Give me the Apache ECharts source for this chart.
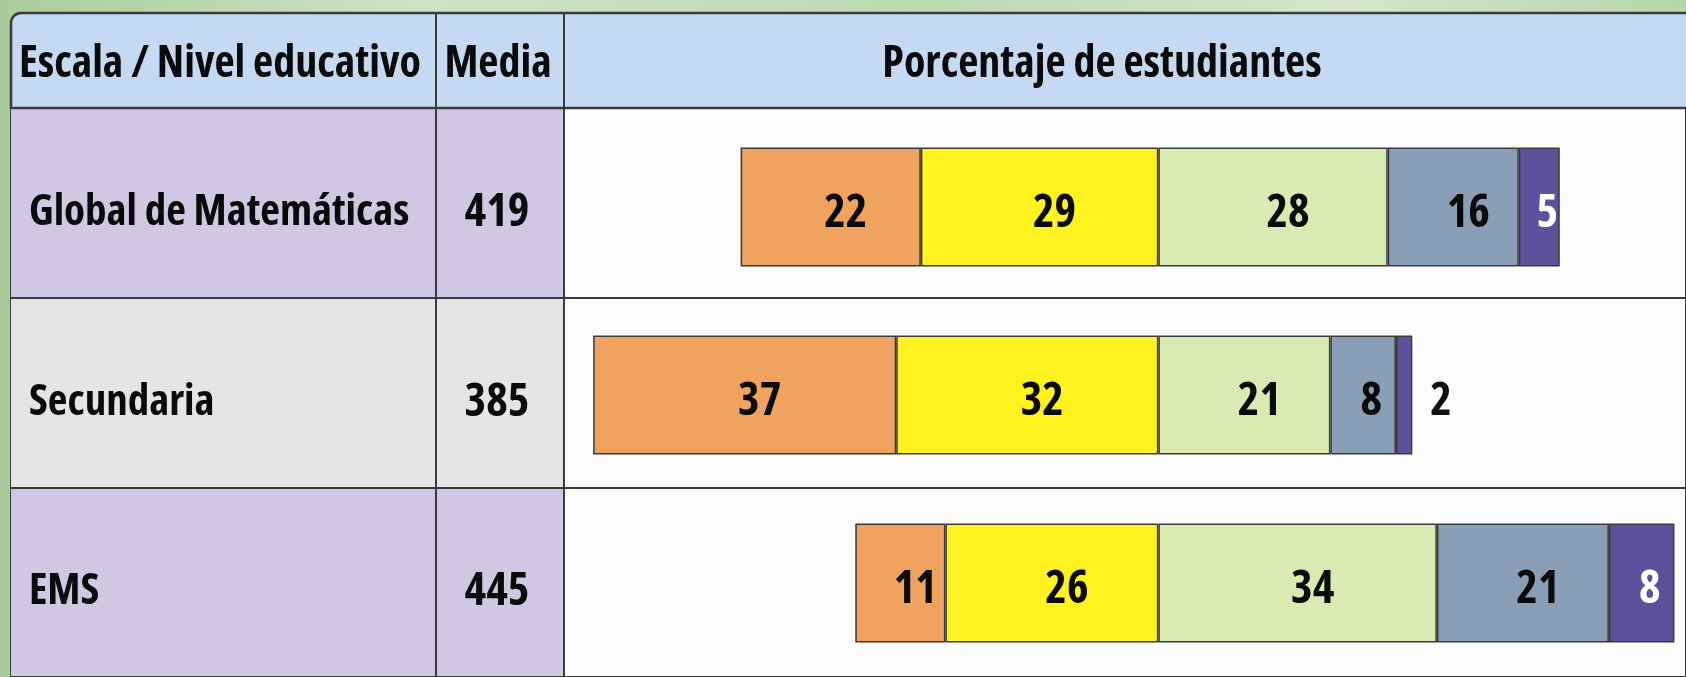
<!DOCTYPE html>
<html>
<head>
<meta charset="utf-8">
<script src="https://cdn.jsdelivr.net/npm/echarts@6/dist/echarts.min.js"></script>
<style>
  html, body { margin: 0; padding: 0; }
  body {
    width: 1686px; height: 677px; overflow: hidden;
    background: linear-gradient(90deg, #a9cc9c 0%, #cfe3c5 25%, #bcd9b1 55%, #d3e6cb 80%, #b7d5ab 100%);
  }
  #chart { width: 1686px; height: 677px; }
</style>
</head>
<body>
<div id="chart"></div>
<script>
// table content
const headers = ['Escala / Nivel educativo', 'Media', 'Porcentaje de estudiantes'];
const categories = ['Global de Matemáticas', 'Secundaria', 'EMS'];
const medias = [419, 385, 445];

// percentage of students per level (I..V)
const nivelI = [22, 37, 11];
const nivelII = [29, 32, 26];
const nivelIII = [28, 21, 34];
const nivelIV = [16, 8, 21];
const nivelV = [5, 2, 8];

// narrow bold face: Open Sans squeezed through its width axis
const FONT = '"Open Sans", "DejaVu Sans Condensed", sans-serif';
const STRETCH = 'condensed';
const BORDER = '#3b3b3b';
const TOP = 108;
const ROWS_H = 573;

const chart = echarts.init(document.getElementById('chart'));

function labelStyle(color) {
    return {
        show: true,
        position: 'inside',
        fontFamily: FONT,
        fontStyle: STRETCH,
        fontWeight: 'bold',
        fontSize: 46,
        color: color,
        formatter: p => Math.abs(p.value)
    };
}

// labels in the source sit a bit right of each segment's centre, and a bit low
function items(values, sign) {
    return values.map(v => ({
        value: sign * v,
        label: { offset: [v < 10 ? 8 : 15, 7] }
    }));
}

function purpleItems(values) {
    return values.map(v => {
        if (v < 4) {
            return { value: v, label: { position: 'right', distance: 18, color: '#111', offset: [0, 7] } };
        }
        return { value: v, label: { offset: [8, 7] } };
    });
}

const barBase = {
    type: 'bar',
    xAxisIndex: 3,
    yAxisIndex: 3,
    stack: 'total',
    barWidth: 119,
    itemStyle: { borderColor: '#3a3a3a', borderWidth: 1.5 }
};

const cellAxis = {
    type: 'category', data: categories, inverse: true,
    axisLine: { show: false }, axisTick: { show: false },
    splitArea: { show: true, interval: 0, areaStyle: { color: ['#d0c8e2', '#e5e5e5'] } },
    splitLine: { show: true, interval: 0, lineStyle: { color: BORDER, width: 2 } }
};

const headerText = (x, text, align) => ({
    type: 'text', z: 12, x: x, y: 64,
    style: {
        text: text, fontFamily: FONT, fontStyle: STRETCH, fontWeight: 'bold', fontSize: 44,
        fill: '#0a0a0a', verticalAlign: 'middle', align: align
    }
});

const option = {
    animation: false,
    backgroundColor: 'transparent',
    grid: [
        { left: 11, top: TOP, width: 425, height: ROWS_H, show: true, borderColor: BORDER, borderWidth: 2 },
        { left: 436, top: TOP, width: 128, height: ROWS_H, show: true, borderColor: BORDER, borderWidth: 2 },
        { left: 564, top: TOP, right: -2, height: ROWS_H, show: true, backgroundColor: '#fcfcfc', borderColor: BORDER, borderWidth: 2 },
        { left: 564, top: 113, right: -2, height: 570 }
    ],
    xAxis: [
        { gridIndex: 0, type: 'value', min: 0, max: 1, show: false },
        { gridIndex: 1, type: 'value', min: 0, max: 1, show: false },
        { gridIndex: 2, type: 'value', min: 0, max: 1, show: false },
        { gridIndex: 3, type: 'value', min: -72.56, max: 64.41, show: false }
    ],
    yAxis: [
        Object.assign({}, cellAxis, {
            gridIndex: 0,
            axisLabel: {
                inside: true, margin: 18, fontFamily: FONT, fontStyle: STRETCH, fontWeight: 'bold',
                fontSize: 43, color: '#0a0a0a', verticalAlign: 'top', lineHeight: 20
            }
        }),
        Object.assign({}, cellAxis, {
            gridIndex: 1,
            axisLabel: {
                inside: true, margin: 61, align: 'center', fontFamily: FONT, fontStyle: STRETCH, fontWeight: 'bold',
                fontSize: 46, color: '#0a0a0a', verticalAlign: 'top', lineHeight: 20,
                formatter: (v, i) => String(medias[i])
            }
        }),
        {
            gridIndex: 2, type: 'category', data: categories, inverse: true,
            axisLine: { show: false }, axisTick: { show: false }, axisLabel: { show: false },
            splitLine: { show: true, interval: 0, lineStyle: { color: BORDER, width: 2 } }
        },
        {
            gridIndex: 3, type: 'category', data: categories, inverse: true, show: false
        }
    ],
    graphic: [
        {
            type: 'rect', z: 10,
            shape: { x: 11, y: 13, width: 1690, height: 95, r: [10, 0, 0, 0] },
            style: { fill: '#c6d9f2', stroke: BORDER, lineWidth: 2.5 }
        },
        // column rules over the whole table height
        { type: 'line', z: 11, shape: { x1: 436, y1: 13, x2: 436, y2: 677 }, style: { stroke: BORDER, lineWidth: 2 } },
        { type: 'line', z: 11, shape: { x1: 564, y1: 13, x2: 564, y2: 677 }, style: { stroke: BORDER, lineWidth: 2 } },
        headerText(19, headers[0], 'left'),
        headerText(498, headers[1], 'center'),
        headerText(1102, headers[2], 'center')
    ],
    series: [
        Object.assign({}, barBase, {
            name: 'Nivel II', data: items(nivelII, -1),
            itemStyle: Object.assign({}, barBase.itemStyle, { color: '#fff21f' }),
            label: labelStyle('#0a0a0a')
        }),
        Object.assign({}, barBase, {
            name: 'Nivel I', data: items(nivelI, -1),
            itemStyle: Object.assign({}, barBase.itemStyle, { color: '#f0a35e' }),
            label: labelStyle('#0a0a0a')
        }),
        Object.assign({}, barBase, {
            name: 'Nivel III', data: items(nivelIII, 1),
            itemStyle: Object.assign({}, barBase.itemStyle, { color: '#dbe9b2' }),
            label: labelStyle('#0a0a0a')
        }),
        Object.assign({}, barBase, {
            name: 'Nivel IV', data: items(nivelIV, 1),
            itemStyle: Object.assign({}, barBase.itemStyle, { color: '#8a9fb5' }),
            label: labelStyle('#0a0a0a')
        }),
        Object.assign({}, barBase, {
            name: 'Nivel V', data: purpleItems(nivelV),
            itemStyle: Object.assign({}, barBase.itemStyle, { color: '#5f509c' }),
            label: labelStyle('#ffffff')
        })
    ]
};

chart.setOption(option);
</script>
</body>
</html>
